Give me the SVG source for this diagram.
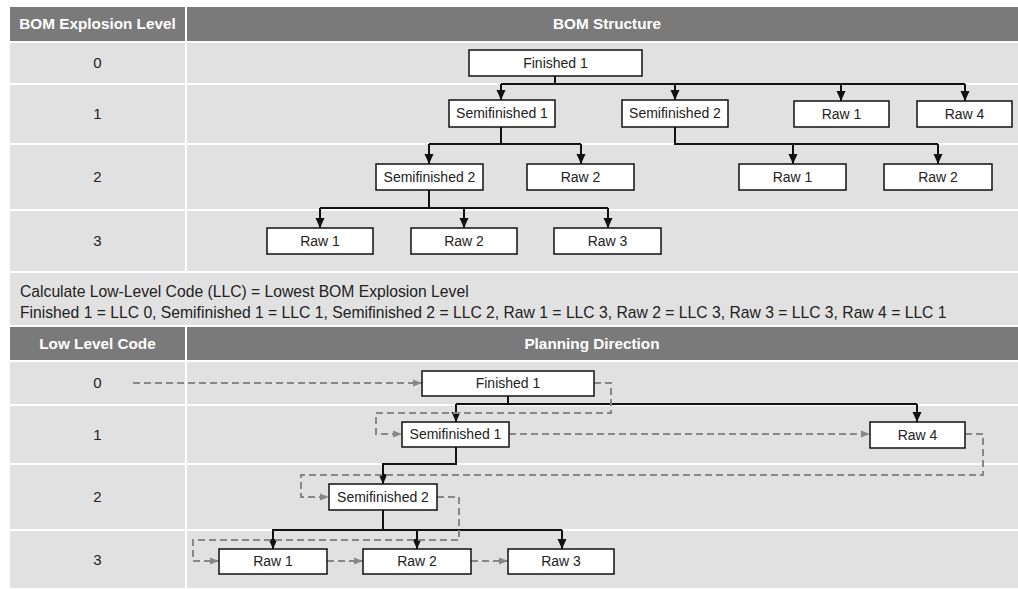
<svg xmlns="http://www.w3.org/2000/svg" width="1018" height="589" viewBox="0 0 1018 589">
<style>
.cell{fill:#e1e1e1}
.hdr{fill:#7a7a7a}
.ht{font-family:"Liberation Sans",Arial,sans-serif;font-weight:bold;font-size:15.3px;fill:#fff;text-anchor:middle}
.lv{font-family:"Liberation Sans",Arial,sans-serif;font-size:15px;fill:#222;text-anchor:middle}
.box{fill:#fff;stroke:#111;stroke-width:1.5}
.bt{font-family:"Liberation Sans",Arial,sans-serif;font-size:14px;fill:#222;text-anchor:middle}
.note{font-family:"Liberation Sans",Arial,sans-serif;font-size:15.7px;fill:#222}
.k{fill:none;stroke:#111;stroke-width:2}
.ka{fill:none;stroke:#111;stroke-width:2;marker-end:url(#ab)}
.d{fill:none;stroke:#888;stroke-width:2;stroke-dasharray:7 4}
.da{fill:none;stroke:#888;stroke-width:2;stroke-dasharray:7 4;marker-end:url(#ag)}
</style>
<defs>
<marker id="ab" markerUnits="userSpaceOnUse" markerWidth="11" markerHeight="11" viewBox="0 0 11 11" refX="10" refY="5.5" orient="auto">
<path d="M0,1 L10,5.5 L0,10 z" fill="#111"/>
</marker>
<marker id="ag" markerUnits="userSpaceOnUse" markerWidth="10" markerHeight="10" viewBox="0 0 10 10" refX="9" refY="5" orient="auto">
<path d="M0,1.5 L9,5 L0,8.5 z" fill="#888"/>
</marker>
</defs>
<rect width="1018" height="589" fill="#fff"/>
<g id="table">
<rect class="hdr" x="10" y="7" width="175" height="34"/>
<rect class="hdr" x="187" y="7" width="831" height="34"/>
<text class="ht" x="97.5" y="29">BOM Explosion Level</text>
<text class="ht" x="607" y="29">BOM Structure</text>
<rect class="cell" x="10" y="43" width="175" height="40"/><rect class="cell" x="187" y="43" width="831" height="40"/>
<rect class="cell" x="10" y="85" width="175" height="58"/><rect class="cell" x="187" y="85" width="831" height="58"/>
<rect class="cell" x="10" y="145" width="175" height="64"/><rect class="cell" x="187" y="145" width="831" height="64"/>
<rect class="cell" x="10" y="211" width="175" height="60"/><rect class="cell" x="187" y="211" width="831" height="60"/>
<text class="lv" x="97.5" y="68">0</text>
<text class="lv" x="97.5" y="119">1</text>
<text class="lv" x="97.5" y="182">2</text>
<text class="lv" x="97.5" y="246">3</text>
<rect class="cell" x="10" y="273" width="1008" height="52"/>
<text class="note" x="20" y="297">Calculate Low-Level Code (LLC) = Lowest BOM Explosion Level</text>
<text class="note" x="20" y="318">Finished 1 = LLC 0, Semifinished 1 = LLC 1, Semifinished 2 = LLC 2, Raw 1 = LLC 3, Raw 2 = LLC 3, Raw 3 = LLC 3, Raw 4 = LLC 1</text>
<rect class="hdr" x="10" y="327" width="175" height="33"/>
<rect class="hdr" x="187" y="327" width="831" height="33"/>
<text class="ht" x="97.5" y="349">Low Level Code</text>
<text class="ht" x="592" y="349">Planning Direction</text>
<rect class="cell" x="10" y="362" width="175" height="42"/><rect class="cell" x="187" y="362" width="831" height="42"/>
<rect class="cell" x="10" y="406" width="175" height="57"/><rect class="cell" x="187" y="406" width="831" height="57"/>
<rect class="cell" x="10" y="465" width="175" height="64"/><rect class="cell" x="187" y="465" width="831" height="64"/>
<rect class="cell" x="10" y="531" width="175" height="57"/><rect class="cell" x="187" y="531" width="831" height="57"/>
<text class="lv" x="97.5" y="388">0</text>
<text class="lv" x="97.5" y="440">1</text>
<text class="lv" x="97.5" y="502">2</text>
<text class="lv" x="97.5" y="565">3</text>
</g>
<g id="connectors">
<path class="k" d="M555,76 V84 M501,84 H965 M501,127 V144 M429,144 H581 M675,127 V144 H938 M429,190 V208 M320,208 H608"/>
<path class="ka" d="M501,84 V100"/>
<path class="ka" d="M675,84 V100"/>
<path class="ka" d="M841,84 V101"/>
<path class="ka" d="M965,84 V101"/>
<path class="ka" d="M429,144 V164"/>
<path class="ka" d="M581,144 V164"/>
<path class="ka" d="M793,144 V164"/>
<path class="ka" d="M938,144 V164"/>
<path class="ka" d="M320,208 V228"/>
<path class="ka" d="M464,208 V228"/>
<path class="ka" d="M608,208 V228"/>
<path class="k" d="M508,396 V404 M456,404 H917 M273,530 H562"/>
<path class="ka" d="M456,404 V422"/>
<path class="ka" d="M917,404 V422"/>
<path class="ka" d="M456,447 V464 H383 V484"/>
<path class="ka" d="M383,510 V530 H273 V549"/>
<path class="ka" d="M417,530 V549"/>
<path class="ka" d="M562,530 V549"/>
<path class="da" d="M133,383 H422"/>
<path class="da" d="M594,383 H611 V413 H376 V434 H402"/>
<path class="da" d="M509,434 H870"/>
<path class="da" d="M965,434 H983 V475 H301 V497 H329"/>
<path class="da" d="M437,497 H459 V540 H193 V561 H219"/>
<path class="da" d="M327,561 H363"/>
<path class="da" d="M471,561 H508"/>
</g>
<g id="t-finished1"><rect class="box" x="469" y="50" width="173" height="26"/><text class="bt" x="555.5" y="68">Finished 1</text></g>
<g id="t-semi1"><rect class="box" x="449" y="100" width="106" height="27"/><text class="bt" x="502" y="118">Semifinished 1</text></g>
<g id="t-semi2a"><rect class="box" x="622" y="100" width="106" height="27"/><text class="bt" x="675" y="118">Semifinished 2</text></g>
<g id="t-raw1a"><rect class="box" x="794" y="101" width="95" height="26"/><text class="bt" x="841.5" y="119">Raw 1</text></g>
<g id="t-raw4"><rect class="box" x="917" y="101" width="95" height="26"/><text class="bt" x="964.5" y="119">Raw 4</text></g>
<g id="t-semi2b"><rect class="box" x="376" y="164" width="107" height="26"/><text class="bt" x="429.5" y="182">Semifinished 2</text></g>
<g id="t-raw2a"><rect class="box" x="527" y="164" width="107" height="26"/><text class="bt" x="580.5" y="182">Raw 2</text></g>
<g id="t-raw1b"><rect class="box" x="739" y="164" width="107" height="26"/><text class="bt" x="792.5" y="182">Raw 1</text></g>
<g id="t-raw2b"><rect class="box" x="884" y="164" width="108" height="26"/><text class="bt" x="938" y="182">Raw 2</text></g>
<g id="t-raw1c"><rect class="box" x="267" y="228" width="106" height="26"/><text class="bt" x="320" y="246">Raw 1</text></g>
<g id="t-raw2c"><rect class="box" x="411" y="228" width="106" height="26"/><text class="bt" x="464" y="246">Raw 2</text></g>
<g id="t-raw3"><rect class="box" x="554" y="228" width="107" height="26"/><text class="bt" x="607.5" y="246">Raw 3</text></g>
<g id="p-finished1"><rect class="box" x="422" y="371" width="172" height="25"/><text class="bt" x="508" y="388">Finished 1</text></g>
<g id="p-semi1"><rect class="box" x="402" y="422" width="107" height="25"/><text class="bt" x="455.5" y="439">Semifinished 1</text></g>
<g id="p-raw4"><rect class="box" x="870" y="422" width="95" height="26"/><text class="bt" x="917.5" y="440">Raw 4</text></g>
<g id="p-semi2"><rect class="box" x="329" y="484" width="108" height="26"/><text class="bt" x="383" y="502">Semifinished 2</text></g>
<g id="p-raw1"><rect class="box" x="219" y="549" width="108" height="25"/><text class="bt" x="273" y="566">Raw 1</text></g>
<g id="p-raw2"><rect class="box" x="363" y="549" width="108" height="25"/><text class="bt" x="417" y="566">Raw 2</text></g>
<g id="p-raw3"><rect class="box" x="508" y="549" width="106" height="25"/><text class="bt" x="561" y="566">Raw 3</text></g>
</svg>
